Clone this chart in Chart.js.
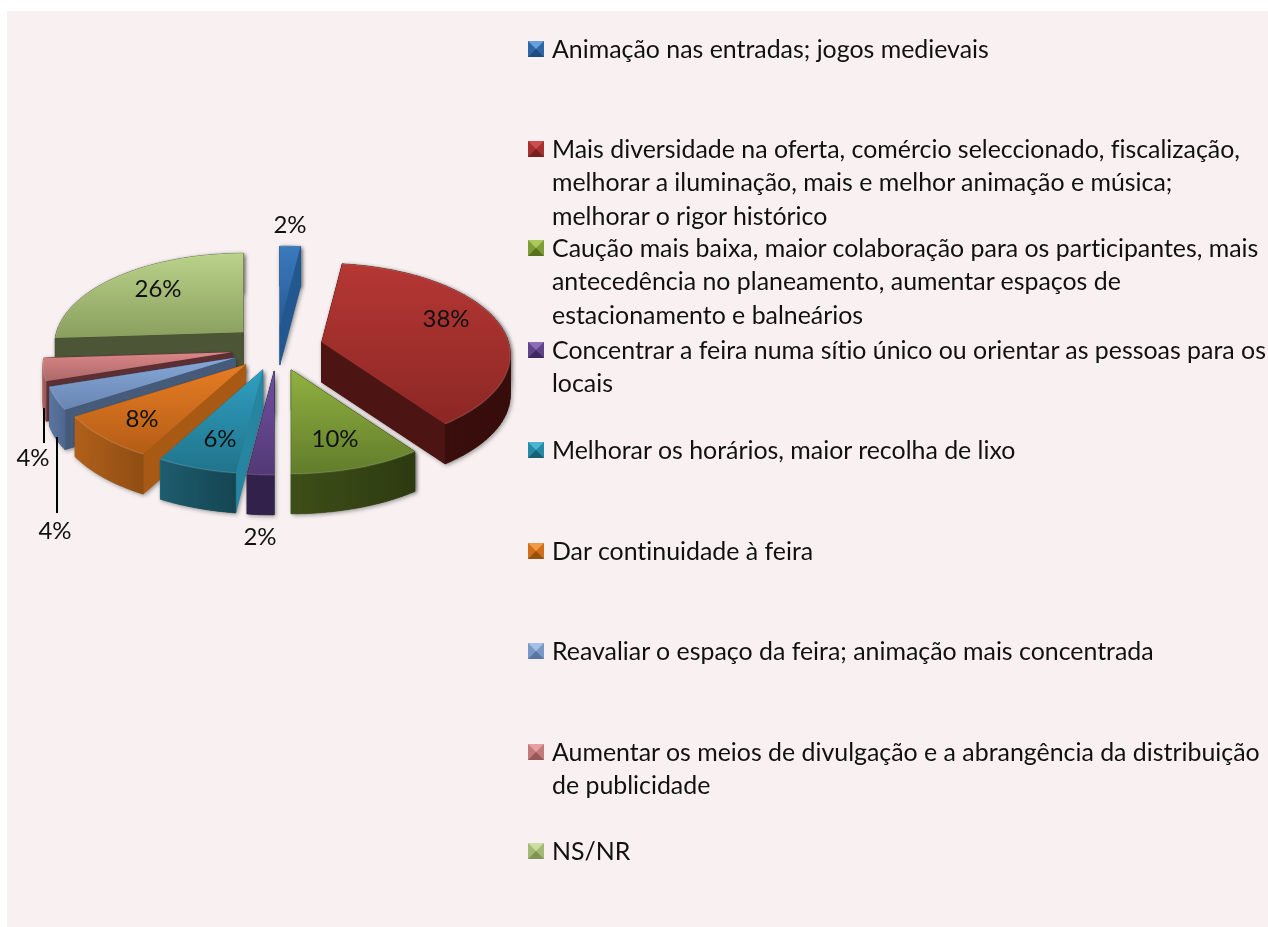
<!DOCTYPE html>
<html lang="pt">
<head>
<meta charset="utf-8">
<title>Sugestões</title>
<script src="https://cdn.jsdelivr.net/npm/chart.js@4"></script>
<style>
  html, body { margin: 0; padding: 0; background: #fff; overflow: hidden; }
  #wrap { position: relative; width: 1268px; height: 927px; }
  #panel { position: absolute; left: 7px; top: 11px; right: 0; bottom: 0; background: #f9f1f1; }
  #chart { position: absolute; left: 0; top: 0; }
  .legend-row { position: absolute; left: 552px; font: 24.9px/33.3px Lato, sans-serif; font-variant-ligatures: none; color: #111; white-space: nowrap; }
  .swatch { position: absolute; left: 528px; width: 0; height: 0; border-style: solid; border-width: 8.5px; }
</style>
</head>
<body>
<div id="wrap">
  <div id="panel"></div>
  <canvas id="chart" width="1268" height="927"></canvas>
  <div id="legend"></div>
</div>
<script>
const categories = [
  ['Animação nas entradas; jogos medievais'],
  ['Mais diversidade na oferta, comércio seleccionado, fiscalização,', 'melhorar a iluminação, mais e melhor animação e música;', 'melhorar o rigor histórico'],
  ['Caução mais baixa, maior colaboração para os participantes, mais', 'antecedência no planeamento, aumentar espaços de', 'estacionamento e balneários'],
  ['Concentrar a feira numa sítio único ou orientar as pessoas para os', 'locais'],
  ['Melhorar os horários, maior recolha de lixo'],
  ['Dar continuidade à feira'],
  ['Reavaliar o espaço da feira; animação mais concentrada'],
  ['Aumentar os meios de divulgação e a abrangência da distribuição', 'de publicidade'],
  ['NS/NR'],
];
const values = [2, 38, 10, 2, 6, 8, 4, 4, 26];

// slice colours: top gradient start/end, curved wall left/right, radial wall
const topLight = ['#3b7abd', '#b53734', '#90b140', '#70509f', '#2f9fc0', '#e67d23', '#86a7d8', '#da8687', '#bad28a'];
const topDark = ['#265c96', '#8c2724', '#627d2b', '#533976', '#20748b', '#b45d16', '#6986b2', '#ad6869', '#8a9f5e'];
const curvedLeft = ['#1f4d80', '#3f100e', '#3d4f18', '#32214a', '#1d5c6e', '#b0601a', '#5c769f', '#a86262', '#4c5535'];
const curvedRight = ['#1f4d80', '#360c0a', '#2d3a10', '#32214a', '#154552', '#8f4d12', '#4e6690', '#985858', '#4c5535'];
const radialWall = ['#22578f', '#4c1412', '#344415', '#32214a', '#2685a0', '#a85a14', '#465a7a', '#5c2e32', '#4c5535'];

// legend layout and bevel swatches
const legendTop = [32, 132, 231, 333, 433, 534, 634, 735, 834];
const swatchTop = [33, 133, 232, 334, 434, 535, 635, 736, 835];
const swatchLight = ['#6a9fdc', '#c9504e', '#a9c95c', '#8d6cb8', '#4db5d2', '#f09a4a', '#a4c0e4', '#e6a0a0', '#cbdda4'];
const swatchMid = ['#2f66a6', '#a5302e', '#7d9c36', '#60438a', '#258aa6', '#d06e1c', '#7898c8', '#c47a7a', '#a3ba75'];
const swatchDark = ['#1f4a80', '#74201e', '#55701f', '#41295f', '#185f74', '#96500f', '#5a769f', '#945a5a', '#7f9455'];

// percentage labels and leader lines
const labelAt = [[290, 225], [446, 319], [335, 439], [260, 537], [220, 439], [142, 419], [55, 531], [33, 458], [158, 289]];
const leaders = [null, null, null, null, null, null, [57, 437, 513], [44, 408, 443], null];

const EXPLODE = 46;
const EXPLODE_SQUASH = 0.5;
const SQUASH = 0.48;
const PERSPECTIVE = 0.1366;
const DEPTH = 40;

function project(arc, angle, r) {
  const mid = (arc.startAngle + arc.endAngle) / 2;
  const ax = arc.x + EXPLODE * Math.cos(mid);
  const ay = arc.y + EXPLODE * Math.sin(mid) * EXPLODE_SQUASH;
  const X = r * Math.cos(angle);
  const Y = r * Math.sin(angle);
  const w = 1 / (1 - PERSPECTIVE * Y / arc.outerRadius);
  return [ax + X * w, ay + Y * w * SQUASH];
}

function outerEdge(arc) {
  const pts = [];
  const steps = Math.max(2, Math.ceil((arc.endAngle - arc.startAngle) / 0.04));
  for (let i = 0; i <= steps; i++) {
    const a = arc.startAngle + (arc.endAngle - arc.startAngle) * i / steps;
    pts.push(project(arc, a, arc.outerRadius));
  }
  return pts;
}

function fillPoly(ctx, pts, color) {
  ctx.beginPath();
  pts.forEach((p, i) => (i ? ctx.lineTo(p[0], p[1]) : ctx.moveTo(p[0], p[1])));
  ctx.closePath();
  ctx.fillStyle = color;
  ctx.fill();
}

function drawSlice(ctx, arc, i) {
  const apex = project(arc, 0, 0);
  const edge = outerEdge(arc);
  const face = [apex, ...edge];
  const down = p => [p[0], p[1] + DEPTH];

  const xs = edge.map(p => p[0]);
  const curved = ctx.createLinearGradient(Math.min(...xs), 0, Math.max(...xs), 0);
  curved.addColorStop(0, curvedLeft[i]);
  curved.addColorStop(1, curvedRight[i]);

  const walls = [
    { pts: [apex, edge[0], down(edge[0]), down(apex)], color: radialWall[i] },
    { pts: [apex, edge[edge.length - 1], down(edge[edge.length - 1]), down(apex)], color: radialWall[i] },
  ];
  for (let k = 0; k < edge.length - 1; k++) {
    walls.push({ pts: [edge[k], edge[k + 1], down(edge[k + 1]), down(edge[k])], color: curved });
  }
  const avgY = w => w.pts.reduce((s, p) => s + p[1], 0) / w.pts.length;
  walls.sort((a, b) => avgY(a) - avgY(b));

  // soft shadow round the whole block
  ctx.save();
  ctx.shadowColor = 'rgba(50,50,50,0.55)';
  ctx.shadowBlur = 4;
  ctx.shadowOffsetX = 1.5;
  ctx.shadowOffsetY = 1.5;
  walls.forEach(w => fillPoly(ctx, w.pts, w.color));
  fillPoly(ctx, face, topDark[i]);
  ctx.restore();

  walls.forEach(w => {
    fillPoly(ctx, w.pts, w.color);
    ctx.strokeStyle = w.color;
    ctx.lineWidth = 0.6;
    ctx.stroke();
  });

  const ys = face.map(p => p[1]);
  const grad = ctx.createLinearGradient(0, Math.min(...ys), 0, Math.max(...ys));
  grad.addColorStop(0, topLight[i]);
  grad.addColorStop(1, topDark[i]);
  fillPoly(ctx, face, grad);

  // lighter rim on the top edge
  ctx.beginPath();
  edge.forEach((p, k) => (k ? ctx.lineTo(p[0], p[1]) : ctx.moveTo(p[0], p[1])));
  ctx.strokeStyle = 'rgba(255,255,255,0.12)';
  ctx.lineWidth = 1.5;
  ctx.stroke();
}

const pie3d = {
  id: 'pie3d',
  beforeDatasetDraw(chart, args) {
    const ctx = chart.ctx;
    const arcs = chart.getDatasetMeta(args.index).data;
    const order = arcs.map((a, i) => i).sort((p, q) => {
      const midY = a => Math.sin((a.startAngle + a.endAngle) / 2);
      return midY(arcs[p]) - midY(arcs[q]);
    });
    order.forEach(i => drawSlice(ctx, arcs[i], i));
    return false;
  },
  afterDraw(chart) {
    const ctx = chart.ctx;
    ctx.save();
    ctx.strokeStyle = '#000';
    ctx.lineWidth = 2;
    leaders.forEach(l => {
      if (!l) return;
      ctx.beginPath();
      ctx.moveTo(l[0], l[1]);
      ctx.lineTo(l[0], l[2]);
      ctx.stroke();
    });
    ctx.font = '24px Lato, sans-serif';
    ctx.fillStyle = '#111';
    ctx.textAlign = 'center';
    ctx.textBaseline = 'middle';
    values.forEach((v, i) => ctx.fillText(v + '%', labelAt[i][0], labelAt[i][1]));
    ctx.restore();
  },
};

new Chart(document.getElementById('chart'), {
  type: 'pie',
  data: {
    labels: categories,
    datasets: [{ data: values, backgroundColor: topLight, borderWidth: 0 }],
  },
  options: {
    responsive: false,
    animation: false,
    radius: 187,
    events: [],
    layout: { padding: { right: 714, bottom: 231 } },
    plugins: { legend: { display: false }, tooltip: { enabled: false } },
  },
  plugins: [pie3d],
});

const legend = document.getElementById('legend');
legend.innerHTML = categories.map((lines, i) => `
  <div class="swatch" style="top:${swatchTop[i]}px;margin-top:8px;border-color:${swatchLight[i]} ${swatchMid[i]} ${swatchDark[i]} ${swatchMid[i]}"></div>
  <div class="legend-row" style="top:${legendTop[i]}px">${lines.join('<br>')}</div>`).join('');
</script>
</body>
</html>
